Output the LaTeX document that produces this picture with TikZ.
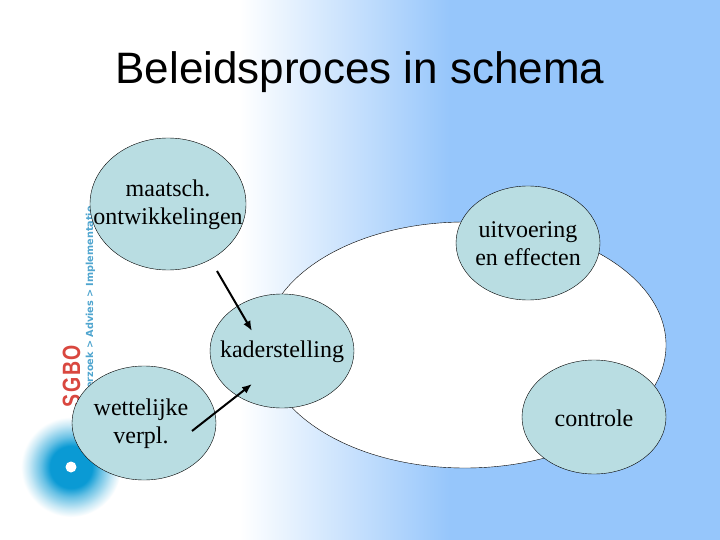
\documentclass[tikz,border=0pt]{standalone}
\usepackage{fontspec}
\setmainfont{Liberation Serif}
\newfontfamily\titlefont{Liberation Sans}
\newfontfamily\logofont{DejaVu Sans}
\usetikzlibrary{shapes.geometric,arrows.meta}
\definecolor{slideblue}{HTML}{96C6FB}
\definecolor{bubblefill}{HTML}{B9DDE2}
\definecolor{logored}{HTML}{D9473F}
\definecolor{logoblue}{HTML}{4FA5CF}
\definecolor{logocore}{HTML}{0A9AD4}
\pgfdeclareradialshading{logoglow}{\pgfpointorigin}{color(0bp)=(logocore); color(10.5bp)=(logocore); color(15bp)=(logocore!62!white); color(21bp)=(logocore!22!white); color(25bp)=(white); color(50bp)=(white)}
\tikzset{
    bubble/.style={draw=black, fill=bubblefill, shape=ellipse, inner sep=0pt, outer sep=0pt, minimum width=144pt, minimum height=114pt},
    bubbletext/.style={align=center, font=\fontsize{24}{28}\selectfont, inner sep=0pt, yshift=-1pt},
    flow/.style={-{Latex[length=10pt,width=8pt]}, line width=2pt}
}
\begin{document}
\begin{tikzpicture}[x=1pt,y=-1pt]
    \useasboundingbox (0,0) rectangle (720,540);
    % Background
    \fill[white] (0,0) rectangle (240,540);
    \shade[left color=white, right color=slideblue] (240,0) rectangle (450,540);
    \fill[slideblue] (450,0) rectangle (720,540);
    % Logo
    \shade[shading=logoglow] (71,467) circle (50);
    \fill[white] (71,467) circle (5.5);
    \node (logoname) [rotate=90, anchor=base, inner sep=0pt, text=logored, font=\titlefont\bfseries\fontsize{25}{25}\selectfont] at (80,376) {\scalebox{.78}[1]{S\kern2pt G\kern2pt B\kern2pt O}};
    \node (logoline) [rotate=90, anchor=base east, inner sep=0pt, text=logoblue, font=\logofont\bfseries\fontsize{9.7}{10}\selectfont] at (93,206) {Onderzoek > Advies > Implementatie};
    % Title
    \node (title) [font=\titlefont\fontsize{44}{44}\selectfont] at (360,72) {Beleidsproces in schema};
    % Cycle
    \node (cycle) [draw=black, fill=white, shape=ellipse, inner sep=0pt, outer sep=0pt, minimum width=402pt, minimum height=246pt] at (465,345) {};
    % Bubbles
    \node (maatsch) [bubble, minimum width=156pt, minimum height=132pt, label={[bubbletext]center:maatsch.\\ontwikkelingen}] at (168,204) {};
    \node (kader) [bubble, label={[bubbletext]center:kaderstelling}] at (282,351) {};
    \node (wettelijk) [bubble, label={[bubbletext, xshift=-3pt]center:wettelijke\\verpl.}] at (144,423) {};
    \node (uitvoering) [bubble, label={[bubbletext]center:uitvoering\\en effecten}] at (528,243) {};
    \node (controle) [bubble, label={[bubbletext]center:controle}] at (594,417) {};
    % Arrows
    \coordinate (maatschout) at (217,271);
    \coordinate (kaderin) at (252,331);
    \coordinate (wettelijkout) at (192,431);
    \coordinate (kaderlow) at (252,384);
    \draw[flow] (maatschout) -- (kaderin);
    \draw[flow] (wettelijkout) -- (kaderlow);
\end{tikzpicture}
\end{document}
